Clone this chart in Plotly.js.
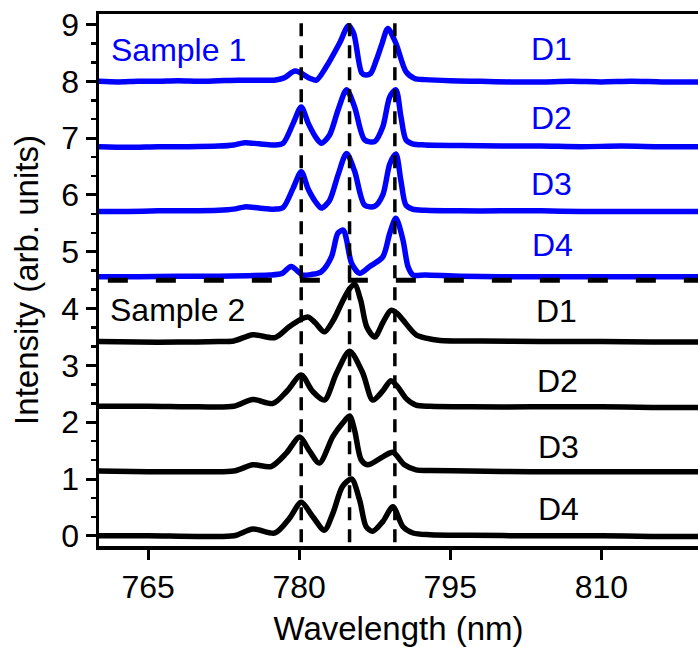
<!DOCTYPE html>
<html>
<head>
<meta charset="utf-8">
<script src="https://cdn.plot.ly/plotly-3.0.1.min.js"></script>
<style>html,body{margin:0;padding:0;background:#fff;}#chart{width:698px;height:647px;}</style>
</head>
<body>
<div id="chart"></div>
<script>
// ---- Sample 1 (blue) ----
const s1d1Wl  = [760, 762, 764, 766, 768, 770, 772, 774, 776, 777.5, 778.5, 779.6, 781.1, 781.7, 782.7, 784.0, 784.9, 785.4, 786.2, 786.6, 787.1, 787.65, 788.2, 788.8, 789.6, 790.6, 791.45, 792.5, 795, 798, 801, 804, 807, 810, 813, 816, 819.6];
const s1d1Int = [8.0, 7.99, 8.0, 8.0, 8.01, 8.0, 8.01, 8.02, 8.02, 8.02, 8.06, 8.18, 8.05, 8.02, 8.26, 8.67, 8.98, 8.85, 8.15, 8.11, 8.14, 8.37, 8.65, 8.93, 8.67, 8.17, 8.05, 8.03, 8.01, 8.0, 7.99, 7.99, 8.0, 7.99, 8.0, 7.99, 7.99];

const s1d2Wl  = [760, 763, 766, 769, 772, 773.5, 774.6, 776, 777.5, 778.4, 779.4, 780.2, 780.9, 781.7, 782.2, 783.0, 783.85, 784.7, 785.5, 786.5, 787.5, 788.3, 789.0, 789.6, 790.1, 790.6, 791.25, 792.5, 796, 800, 804, 808, 812, 816, 819.6];
const s1d2Int = [6.85, 6.84, 6.85, 6.85, 6.86, 6.88, 6.92, 6.9, 6.88, 6.91, 7.26, 7.55, 7.26, 7.0, 6.91, 7.05, 7.49, 7.85, 7.55, 6.97, 6.94, 7.2, 7.73, 7.85, 7.38, 6.97, 6.9, 6.88, 6.87, 6.86, 6.86, 6.85, 6.86, 6.85, 6.85];

const s1d3Wl  = [760, 763, 766, 769, 772, 773.5, 774.6, 776, 777.5, 778.4, 779.4, 780.2, 780.9, 781.7, 782.2, 783.0, 783.85, 784.7, 785.5, 786.5, 787.5, 788.3, 789.0, 789.6, 790.1, 790.6, 791.25, 792.5, 796, 800, 804, 808, 812, 816, 819.6];
const s1d3Int = [5.71, 5.71, 5.72, 5.72, 5.73, 5.75, 5.79, 5.77, 5.75, 5.78, 6.12, 6.41, 6.1, 5.86, 5.77, 5.9, 6.35, 6.73, 6.42, 5.82, 5.8, 6.0, 6.55, 6.72, 6.25, 5.82, 5.75, 5.73, 5.72, 5.72, 5.72, 5.71, 5.71, 5.71, 5.71];

const s1d4Wl  = [760, 764, 768, 772, 775, 777, 778.3, 779.2, 780.35, 781.2, 782.2, 783.2, 783.85, 784.4, 784.7, 785.2, 786.0, 787.0, 788.3, 789.0, 789.6, 790.3, 790.8, 791.3, 792.5, 796, 800, 805, 810, 815, 819.6];
const s1d4Int = [4.56, 4.56, 4.57, 4.57, 4.58, 4.59, 4.62, 4.74, 4.59, 4.6, 4.65, 4.91, 5.33, 5.38, 5.21, 4.8, 4.62, 4.74, 4.91, 5.33, 5.59, 5.21, 4.74, 4.59, 4.59, 4.57, 4.56, 4.56, 4.56, 4.56, 4.56];

// ---- Sample 2 (black) ----
const s2d1Wl  = [760, 764, 768, 772, 773.5, 775.4, 777.6, 779.0, 780.05, 780.9, 781.6, 782.5, 783.4, 784.2, 785.0, 785.5, 786.1, 786.7, 787.5, 788.3, 789.1, 789.7, 790.3, 791.6, 792.6, 794, 798, 804, 810, 815, 819.6];
const s2d1Int = [3.42, 3.41, 3.41, 3.42, 3.43, 3.54, 3.49, 3.68, 3.8, 3.85, 3.75, 3.59, 3.8, 4.09, 4.35, 4.43, 4.15, 3.68, 3.5, 3.75, 3.97, 3.92, 3.8, 3.54, 3.48, 3.44, 3.43, 3.42, 3.42, 3.41, 3.41];

const s2d2Wl  = [760, 765, 770, 773.5, 775.4, 777.4, 778.8, 780.2, 781.3, 782.5, 783.7, 785.0, 786.3, 787.3, 788.3, 789.1, 789.8, 790.6, 791.6, 793, 797, 803, 810, 815, 819.6];
const s2d2Int = [2.28, 2.28, 2.27, 2.28, 2.40, 2.33, 2.55, 2.83, 2.55, 2.39, 2.86, 3.25, 2.87, 2.39, 2.55, 2.73, 2.62, 2.42, 2.30, 2.28, 2.27, 2.27, 2.27, 2.26, 2.26];

const s2d3Wl  = [760, 765, 770, 773.5, 775.4, 777.2, 778.7, 780.05, 781.0, 782.0, 783.35, 784.3, 785.0, 785.5, 786.15, 786.8, 788.3, 789.3, 790.45, 791.6, 793, 797, 803, 810, 815, 819.6];
const s2d3Int = [1.14, 1.13, 1.13, 1.14, 1.25, 1.22, 1.45, 1.74, 1.5, 1.28, 1.75, 1.98, 2.11, 1.86, 1.34, 1.25, 1.39, 1.47, 1.25, 1.16, 1.15, 1.14, 1.13, 1.13, 1.13, 1.13];

const s2d4Wl  = [760, 765, 770, 773.5, 775.4, 777.6, 779.0, 780.2, 781.3, 782.5, 783.35, 784.3, 785.2, 786.0, 786.65, 787.3, 788.3, 789.3, 790.3, 791.3, 793, 797, 803, 810, 815, 819.6];
const s2d4Int = [0.0, 0.0, -0.01, 0.0, 0.12, 0.05, 0.3, 0.59, 0.35, 0.1, 0.4, 0.87, 1.0, 0.63, 0.16, 0.08, 0.25, 0.51, 0.16, 0.05, 0.02, 0.01, 0.0, 0.0, -0.01, -0.01];

// ---- Reference lines ----
const peakWl = [780.2, 785.0, 789.5];
const peakLineY = [9.02, -0.2];
const dividerY = 4.5;
const dividerWl = [761.0, 820];

// ---- Labels ----
const xTicks = [765, 780, 795, 810];
const sampleLabels = ["Sample 1", "Sample 2"];
const sampleLabelX = [768.0, 767.9];
const sampleLabelY = [8.55, 3.97];
const devLabels = ["D1", "D2", "D3", "D4"];
const devLabelX1 = [805.1, 805.1, 805.1, 805.2];
const devLabelY1 = [8.57, 7.36, 6.19, 5.12];
const devLabelX2 = [805.5, 805.6, 805.7, 805.7];
const devLabelY2 = [3.96, 2.73, 1.57, 0.47];

const FONT = "Liberation Sans, Arial, Helvetica, sans-serif";
const BLUE = "#0000ff";

function curve(x, y, color) {
  return {x: x, y: y, type: "scatter", mode: "lines",
          line: {color: color, width: 5.5, shape: "spline", smoothing: 0.8},
          hoverinfo: "skip", showlegend: false};
}

const traces = [
  curve(s1d1Wl, s1d1Int, BLUE), curve(s1d2Wl, s1d2Int, BLUE),
  curve(s1d3Wl, s1d3Int, BLUE), curve(s1d4Wl, s1d4Int, BLUE),
  curve(s2d1Wl, s2d1Int, "#000"), curve(s2d2Wl, s2d2Int, "#000"),
  curve(s2d3Wl, s2d3Int, "#000"), curve(s2d4Wl, s2d4Int, "#000")
];
peakWl.forEach(w => traces.push({
  x: [w, w], y: peakLineY, type: "scatter", mode: "lines",
  line: {color: "#000", width: 3.5, dash: "13px,9px"}, hoverinfo: "skip", showlegend: false
}));
traces.push({
  x: dividerWl, y: [dividerY, dividerY], type: "scatter", mode: "lines",
  line: {color: "#000", width: 5, dash: "20px,28px"}, hoverinfo: "skip", showlegend: false
});

const annotations = [];
sampleLabels.forEach((t, i) => annotations.push({
  x: sampleLabelX[i], y: sampleLabelY[i], xref: "x", yref: "y", text: t, showarrow: false,
  font: {family: FONT, size: 32, color: i === 0 ? BLUE : "#000"}, xanchor: "center", yanchor: "middle"
}));
devLabels.forEach((t, i) => {
  annotations.push({x: devLabelX1[i], y: devLabelY1[i], xref: "x", yref: "y", text: t, showarrow: false,
    font: {family: FONT, size: 32, color: BLUE}, xanchor: "center", yanchor: "middle"});
  annotations.push({x: devLabelX2[i], y: devLabelY2[i], xref: "x", yref: "y", text: t, showarrow: false,
    font: {family: FONT, size: 32, color: "#000"}, xanchor: "center", yanchor: "middle"});
});

const layout = {
  width: 698, height: 647,
  margin: {l: 99, r: 0, t: 14, b: 101, pad: 0},
  paper_bgcolor: "#fff", plot_bgcolor: "#fff",
  font: {family: FONT, color: "#000"},
  showlegend: false,
  xaxis: {
    range: [760.12, 819.6], tickvals: xTicks, ticktext: xTicks.map(String),
    ticks: "outside", ticklen: 10, tickwidth: 3, tickcolor: "#000",
    showline: true, linewidth: 3.5, linecolor: "#000", mirror: true,
    showgrid: false, zeroline: false,
    tickfont: {family: FONT, size: 32, color: "#000"},
    title: {text: "Wavelength (nm)", font: {family: FONT, size: 33, color: "#000"}, standoff: 16}
  },
  yaxis: {
    range: [-0.179, 9.185], tick0: 0, dtick: 1,
    ticks: "outside", ticklen: 10, tickwidth: 3, tickcolor: "#000",
    minor: {dtick: 1/3, tick0: 0, ticks: "outside", ticklen: 5, tickwidth: 2.5, tickcolor: "#000", showgrid: false},
    showline: true, linewidth: 3.5, linecolor: "#000",
    showgrid: false, zeroline: false,
    tickfont: {family: FONT, size: 32, color: "#000"},
    title: {text: "Intensity (arb. units)", font: {family: FONT, size: 33, color: "#000"}, standoff: 14}
  },
  annotations: annotations
};

Plotly.newPlot("chart", traces, layout, {staticPlot: true, displayModeBar: false});
</script>
</body>
</html>
